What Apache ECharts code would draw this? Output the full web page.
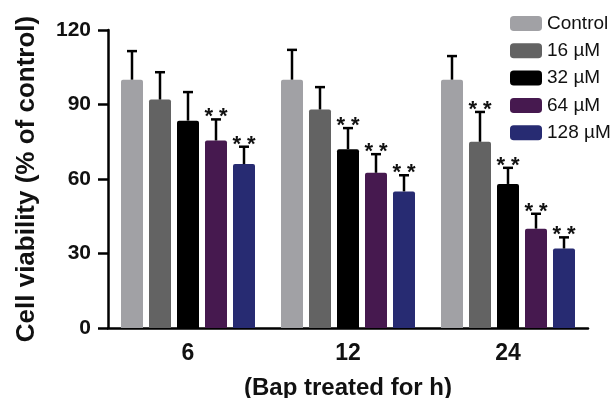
<!DOCTYPE html>
<html><head><meta charset="utf-8">
<script src="https://cdn.jsdelivr.net/npm/echarts@6/dist/echarts.min.js"></script>
<style>html,body{margin:0;padding:0;background:#fff}#c{width:614px;height:398px}</style>
</head><body><div id="c"></div>
<script>
const categories = ['6', '12', '24'];
const seriesNames = ['Control', '16 µM', '32 µM', '64 µM', '128 µM'];
const control = [100, 100, 100];
const controlErr = [11.5, 12, 9.5];
const m16 = [92, 88, 75];
const m16Err = [11, 9, 12];
const m32 = [83.5, 72, 58];
const m32Err = [11.5, 8.5, 6.5];
const m64 = [75.5, 62.5, 40];
const m64Err = [8.5, 7.5, 6];
const m128 = [66, 55, 32];
const m128Err = [7, 6.5, 4.5];
const sig16 = [0, 0, 1];
const sig32 = [0, 1, 1];
const sig64 = [1, 1, 1];
const sig128 = [1, 1, 1];
const sigControl = [0, 0, 0];
const yTicks = [0, 30, 60, 90, 120];

const colors = ['#a1a1a5', '#636363', '#000000', '#46194f', '#272b72'];
const means = [control, m16, m32, m64, m128];
const errs = [controlErr, m16Err, m32Err, m64Err, m128Err];
const sigs = [sigControl, sig16, sig32, sig64, sig128];
const BAR_W = 22, BAR_GAP = 6;
const FONT = '"Liberation Sans", Arial, sans-serif';

const chart = echarts.init(document.getElementById('c'), null, {renderer: 'canvas'});
const series = [];
seriesNames.forEach((name, i) => {
  series.push({
    name, type: 'bar', data: means[i], barWidth: BAR_W, barGap: (BAR_GAP / BAR_W * 100) + '%',
    itemStyle: {color: colors[i], borderRadius: [2, 2, 0, 0]}, z: 2
  });
});
seriesNames.forEach((name, i) => {
  const data = categories.map((c, k) => [k, means[i][k], means[i][k] + errs[i][k], sigs[i][k]]);
  series.push({
    type: 'custom', name: name + ' err', data, z: 5, silent: true,
    encode: {x: 0, y: 2},
    renderItem: function (params, api) {
      const k = api.value(0);
      const off = (i - (seriesNames.length - 1) / 2) * (BAR_W + BAR_GAP);
      const p0 = api.coord([k, api.value(1)]);
      const p1 = api.coord([k, api.value(2)]);
      const x = p0[0] + off;
      const children = [
        {type: 'line', shape: {x1: x, y1: p0[1], x2: x, y2: p1[1]}, style: {stroke: '#000', lineWidth: 2.5}},
        {type: 'line', shape: {x1: x - 5, y1: p1[1], x2: x + 5, y2: p1[1]}, style: {stroke: '#000', lineWidth: 2.5}}
      ];
      if (api.value(3)) {
        children.push({type: 'text', x: x, y: p1[1] - 2,
          style: {text: '* *', font: 'bold 22px ' + FONT, fill: '#111', align: 'center', verticalAlign: 'middle'}});
      }
      return {type: 'group', children};
    }
  });
});

chart.setOption({
  animation: false,
  backgroundColor: '#fff',
  grid: {left: 108, right: 26, top: 30, bottom: 70, containLabel: false, outerBoundsMode: 'none'},
  legend: {
    data: seriesNames, orient: 'vertical', left: 510, top: 14, padding: 0,
    itemWidth: 32, itemHeight: 15, itemGap: 8.3, icon: 'roundRect',
    textStyle: {fontSize: 19, lineHeight: 15, fontFamily: FONT, color: '#111', padding: [0, 0, 0, 0]}
  },
  xAxis: {
    type: 'category', data: categories,
    name: '(Bap treated for h)', nameLocation: 'middle', nameGap: 48,
    nameTextStyle: {fontSize: 24, fontWeight: 'bold', fontFamily: FONT, color: '#111'},
    axisLine: {lineStyle: {color: '#000', width: 2.5}},
    axisTick: {alignWithLabel: true, length: 8, lineStyle: {color: '#000', width: 2.5}},
    axisLabel: {fontSize: 23, fontWeight: 'bold', fontFamily: FONT, color: '#111', margin: 14}
  },
  yAxis: {
    type: 'value', min: 0, max: 120, interval: 30,
    name: 'Cell viability (% of control)', nameLocation: 'middle', nameGap: 68,
    nameTextStyle: {fontSize: 26, fontWeight: 'bold', fontFamily: FONT, color: '#111'},
    axisLine: {show: true, lineStyle: {color: '#000', width: 2.5}},
    axisTick: {show: true, length: 10, lineStyle: {color: '#000', width: 2.5}},
    axisLabel: {fontSize: 21, fontWeight: 'bold', fontFamily: FONT, color: '#111', margin: 17,
      formatter: v => yTicks.includes(v) ? String(v) : ''},
    splitLine: {show: false}
  },
  series
});
</script></body></html>
